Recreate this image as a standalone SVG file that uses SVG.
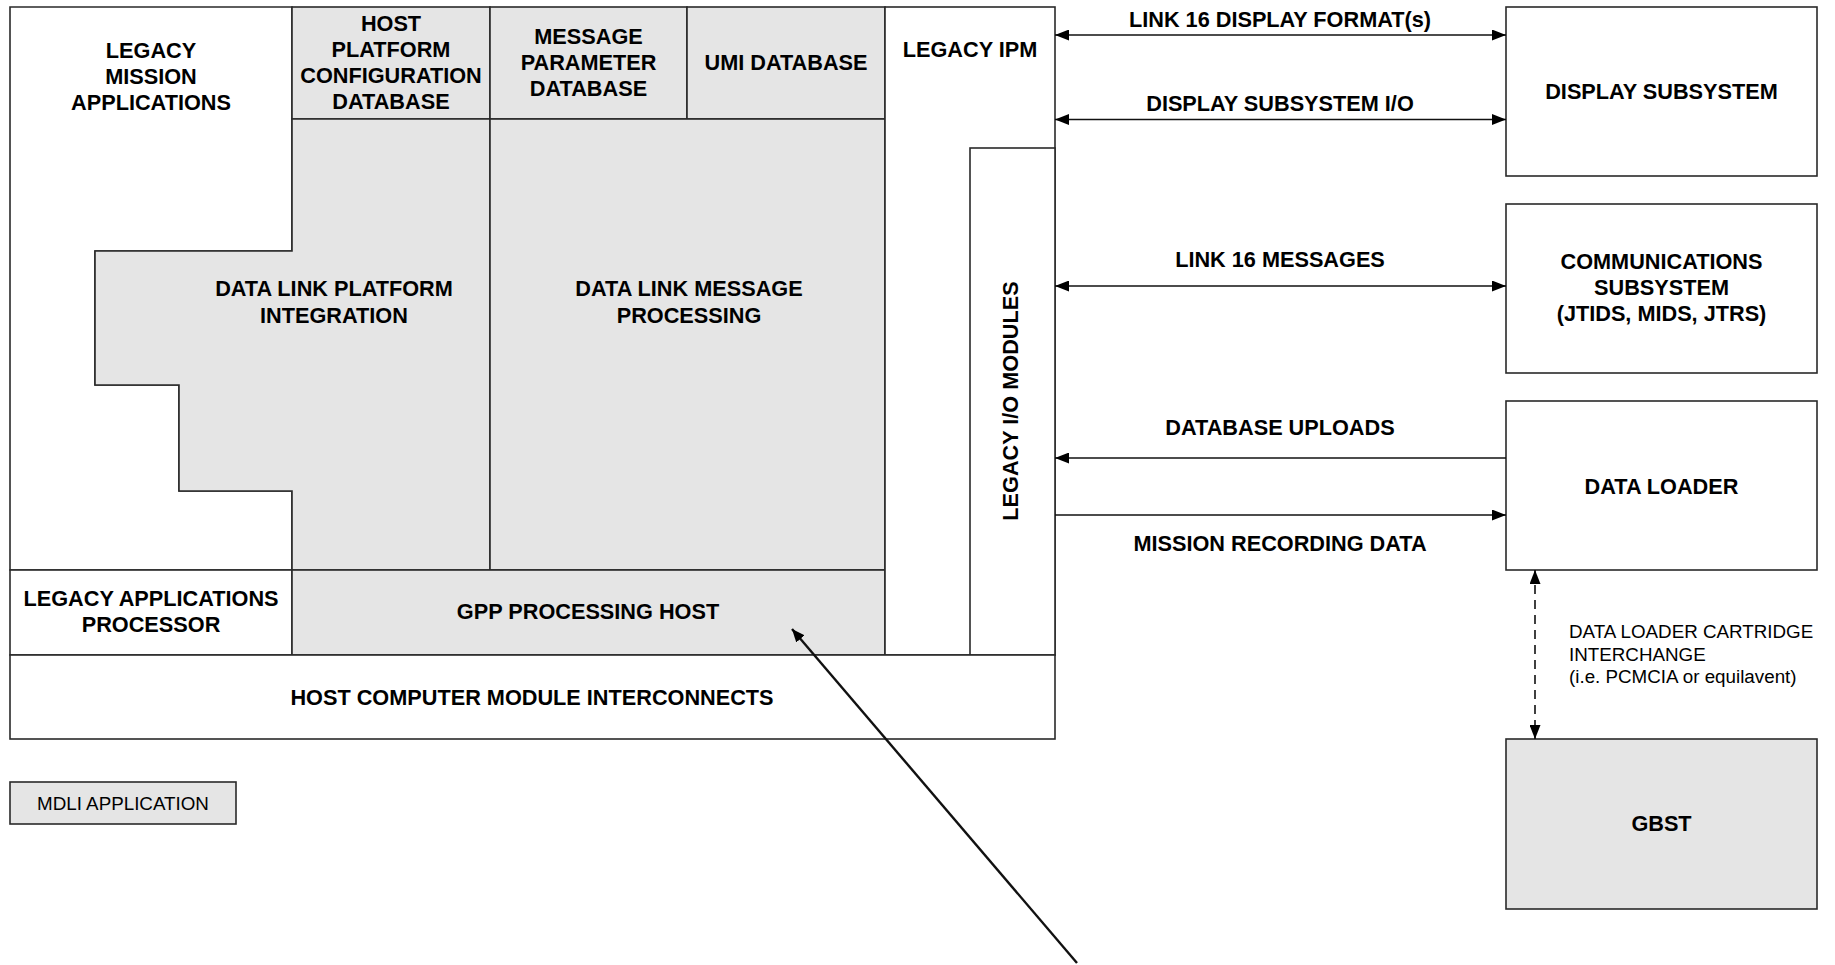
<svg xmlns="http://www.w3.org/2000/svg" width="1835" height="965" viewBox="0 0 1835 965">
<style>
.w{fill:#ffffff;stroke:#2a2a2a;stroke-width:1.6}
.g{fill:#e5e5e5;stroke:#2a2a2a;stroke-width:1.6}
.t{font-family:"Liberation Sans",Arial,sans-serif;font-weight:bold;font-size:21.7px;fill:#000;text-anchor:middle}
.r{font-family:"Liberation Sans",Arial,sans-serif;font-size:18.8px;fill:#000}
.c{fill:none;stroke:#111;stroke-width:1.6}
</style>
<defs>
<marker id="ah" viewBox="0 0 14 11" refX="14" refY="5.5" markerWidth="14" markerHeight="11" markerUnits="userSpaceOnUse" orient="auto-start-reverse">
<path d="M0,0 L14,5.5 L0,11 z" fill="#000"/>
</marker>
<marker id="ahs" viewBox="0 0 13 11" refX="13" refY="5.5" markerWidth="13" markerHeight="11" markerUnits="userSpaceOnUse" orient="auto">
<path d="M0,0 L13,5.5 L0,11 z" fill="#000"/>
</marker>
</defs>

<g id="legacy-mission-applications">
<polygon class="w" points="10,7 292,7 292,251 95,251 95,385 179,385 179,491 292,491 292,570 10,570"/>
<text class="t" x="151" y="58">LEGACY</text>
<text class="t" x="151" y="84">MISSION</text>
<text class="t" x="151" y="110">APPLICATIONS</text>
</g>
<g id="host-platform-configuration-database">
<rect class="g" x="292" y="7" width="198" height="112"/>
<text class="t" x="391" y="31">HOST</text>
<text class="t" x="391" y="57">PLATFORM</text>
<text class="t" x="391" y="83">CONFIGURATION</text>
<text class="t" x="391" y="109">DATABASE</text>
</g>
<g id="message-parameter-database">
<rect class="g" x="490" y="7" width="197" height="112"/>
<text class="t" x="588.5" y="44">MESSAGE</text>
<text class="t" x="588.5" y="70">PARAMETER</text>
<text class="t" x="588.5" y="96">DATABASE</text>
</g>
<g id="umi-database">
<rect class="g" x="687" y="7" width="198" height="112"/>
<text class="t" x="786" y="70">UMI DATABASE</text>
</g>
<g id="data-link-platform-integration">
<polygon class="g" points="292,119 490,119 490,570 292,570 292,491 179,491 179,385 95,385 95,251 292,251"/>
<text class="t" x="334" y="296">DATA LINK PLATFORM</text>
<text class="t" x="334" y="323">INTEGRATION</text>
</g>
<g id="data-link-message-processing">
<rect class="g" x="490" y="119" width="395" height="451"/>
<text class="t" x="689" y="296">DATA LINK MESSAGE</text>
<text class="t" x="689" y="323">PROCESSING</text>
</g>
<g id="legacy-applications-processor">
<rect class="w" x="10" y="570" width="282" height="85"/>
<text class="t" x="151" y="606">LEGACY APPLICATIONS</text>
<text class="t" x="151" y="632">PROCESSOR</text>
</g>
<g id="gpp-processing-host">
<rect class="g" x="292" y="570" width="593" height="85"/>
<text class="t" x="588" y="619">GPP PROCESSING HOST</text>
</g>
<g id="legacy-ipm">
<rect class="w" x="885" y="7" width="170" height="648"/>
<text class="t" x="970" y="57">LEGACY IPM</text>
</g>
<g id="legacy-io-modules">
<rect class="w" x="970" y="148" width="85" height="507"/>
<text class="t" transform="translate(1017.5,401) rotate(-90)" x="0" y="0">LEGACY I/O MODULES</text>
</g>
<g id="host-computer-module-interconnects">
<rect class="w" x="10" y="655" width="1045" height="84"/>
<text class="t" x="532" y="704.5">HOST COMPUTER MODULE INTERCONNECTS</text>
</g>
<g id="mdli-application-legend">
<rect class="g" x="10" y="782" width="226" height="42"/>
<text class="r" x="123" y="809.5" text-anchor="middle">MDLI APPLICATION</text>
</g>
<g id="display-subsystem">
<rect class="w" x="1506" y="7" width="311" height="169"/>
<text class="t" x="1661.5" y="98.5">DISPLAY SUBSYSTEM</text>
</g>
<g id="communications-subsystem">
<rect class="w" x="1506" y="204" width="311" height="169"/>
<text class="t" x="1661.5" y="269">COMMUNICATIONS</text>
<text class="t" x="1661.5" y="295">SUBSYSTEM</text>
<text class="t" x="1661.5" y="321">(JTIDS, MIDS, JTRS)</text>
</g>
<g id="data-loader">
<rect class="w" x="1506" y="401" width="311" height="169"/>
<text class="t" x="1661.5" y="493.5">DATA LOADER</text>
</g>
<g id="gbst">
<rect class="g" x="1506" y="739" width="311" height="170"/>
<text class="t" x="1661.5" y="831">GBST</text>
</g>

<g id="connectors">
<line class="c" x1="1055" y1="35" x2="1506" y2="35" marker-start="url(#ah)" marker-end="url(#ah)"/>
<line class="c" x1="1055" y1="119.5" x2="1506" y2="119.5" marker-start="url(#ah)" marker-end="url(#ah)"/>
<line class="c" x1="1055" y1="286" x2="1506" y2="286" marker-start="url(#ah)" marker-end="url(#ah)"/>
<line class="c" x1="1506" y1="458" x2="1055" y2="458" marker-end="url(#ah)"/>
<line class="c" x1="1055" y1="515" x2="1506" y2="515" marker-end="url(#ah)"/>
<line class="c" x1="1535" y1="570" x2="1535" y2="739" stroke-dasharray="9,6" marker-start="url(#ah)" marker-end="url(#ah)"/>
<line class="c" x1="1077" y1="963" x2="792" y2="629" style="stroke-width:2.4" marker-end="url(#ahs)"/>
<text class="t" x="1280" y="26.5">LINK 16 DISPLAY FORMAT(s)</text>
<text class="t" x="1280" y="111">DISPLAY SUBSYSTEM I/O</text>
<text class="t" x="1280" y="266.5">LINK 16 MESSAGES</text>
<text class="t" x="1280" y="435">DATABASE UPLOADS</text>
<text class="t" x="1280" y="550.5">MISSION RECORDING DATA</text>
<text class="r" x="1569" y="638">DATA LOADER CARTRIDGE</text>
<text class="r" x="1569" y="661">INTERCHANGE</text>
<text class="r" x="1569" y="683">(i.e. PCMCIA or equilavent)</text>
</g>
</svg>
